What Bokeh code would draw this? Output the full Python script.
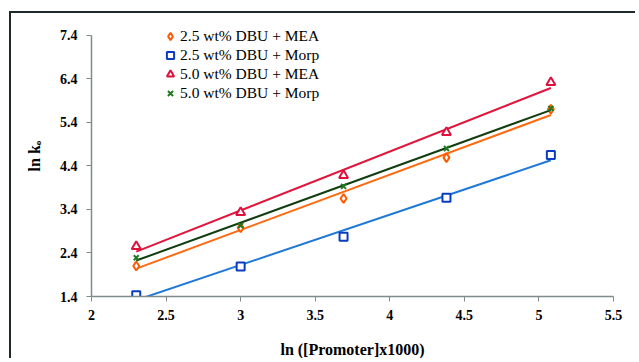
import numpy as np
from bokeh.plotting import figure
from bokeh.models import FixedTicker, Legend, LegendItem, Range1d
from bokeh.embed import file_html
from bokeh.resources import INLINE

# data
x_vals = [2.30, 3.00, 3.69, 4.38, 5.08]
mea_25 = [2.10, 2.98, 3.65, 4.59, 5.70]
morp_25 = [1.43, 2.09, 2.77, 3.67, 4.65]
mea_50 = [2.55, 3.33, 4.18, 5.17, 6.32]
morp_50 = [2.29, 3.03, 3.93, 4.80, 5.72]
series_names = ["2.5 wt% DBU + MEA", "2.5 wt% DBU + Morp",
                "5.0 wt% DBU + MEA", "5.0 wt% DBU + Morp"]
x_ticks = [2, 2.5, 3, 3.5, 4, 4.5, 5, 5.5]
x_tick_labels = ["2", "2.5", "3", "3.5", "4", "4.5", "5", "5.5"]
y_ticks = [1.4, 2.4, 3.4, 4.4, 5.4, 6.4, 7.4]
y_tick_labels = ["1.4", "2.4", "3.4", "4.4", "5.4", "6.4", "7.4"]

SERIF = "'Liberation Serif', 'Times New Roman', serif"

p = figure(width=626, height=347, output_backend="svg", toolbar_location=None,
           x_range=Range1d(2, 5.5), y_range=Range1d(1.4, 7.855),
           min_border_left=80, min_border_right=24, min_border_top=2,
           min_border_bottom=61)
p.styles = {"margin-left": "9px", "margin-top": "11px",
            "border-top": "2px solid #1e2a2a", "border-left": "2px solid #1e2a2a"}
p.outline_line_color = None
p.xgrid.visible = False
p.ygrid.visible = False
p.background_fill_color = "white"

for ax in (p.xaxis[0], p.yaxis[0]):
    ax.axis_line_color = "#7f8a8a"
    ax.axis_line_width = 1.5
    ax.major_tick_line_color = "#7f8a8a"
    ax.major_tick_in = 0
    ax.major_tick_out = 5
    ax.minor_tick_line_color = None
    ax.major_label_text_font = SERIF
    ax.major_label_text_font_style = "bold"
    ax.major_label_text_font_size = "14px"
    ax.major_label_text_color = "black"
    ax.axis_label_text_font = SERIF
    ax.axis_label_text_font_style = "bold"
    ax.axis_label_text_font_size = "16px"
    ax.axis_label_text_color = "black"

p.xaxis.ticker = FixedTicker(ticks=x_ticks)
p.xaxis.major_label_overrides = dict(zip(x_ticks, x_tick_labels))
p.yaxis.ticker = FixedTicker(ticks=y_ticks)
p.yaxis.major_label_overrides = dict(zip(y_ticks, y_tick_labels))
p.yaxis.bounds = (1.4, 7.4)
p.xaxis.axis_label = "ln ([Promoter]x1000)"
p.yaxis.axis_label = "ln k\u2092"
p.xaxis.major_label_standoff = 8
p.xaxis.axis_label_standoff = 18
p.yaxis.major_label_standoff = 9
p.yaxis.axis_label_standoff = 14

series = [mea_25, morp_25, mea_50, morp_50]
line_colors = ["#ff6a10", "#1f78d8", "#e0163c", "#113d11"]
marker_colors = ["#ff5a00", "#0a3cc0", "#e0103c", "#1f7a1f"]
markers = ["diamond", "square", "triangle", "x"]
sizes = [9, 8, 9, 7]

x_arr = np.array(x_vals)
items = []
for name, ys, lc, mc, mk, sz in zip(series_names, series, line_colors,
                                     marker_colors, markers, sizes):
    slope, icpt = np.polyfit(x_arr, np.array(ys), 1)
    xs = [x_arr.min(), x_arr.max()]
    p.line(xs, [slope * v + icpt for v in xs], line_color=lc, line_width=2)
    r = p.scatter(x_vals, ys, marker=mk, size=sz, line_color=mc,
                  fill_color="white" if mk != "x" else None, line_width=2)
    items.append(LegendItem(label=name, renderers=[r]))

legend = Legend(items=items, location=(69, 194), orientation="vertical")
legend.label_text_font = SERIF
legend.label_text_font_size = "15.5px"
legend.label_text_color = "black"
legend.border_line_color = None
legend.background_fill_alpha = 0
legend.glyph_width = 20
legend.glyph_height = 18
legend.spacing = 1
legend.label_height = 18
legend.label_standoff = 0
legend.padding = 4
legend.margin = 0
legend.label_text_line_height = 1.0
p.add_layout(legend, "center")

open("out.html", "w").write(file_html(p, INLINE))
